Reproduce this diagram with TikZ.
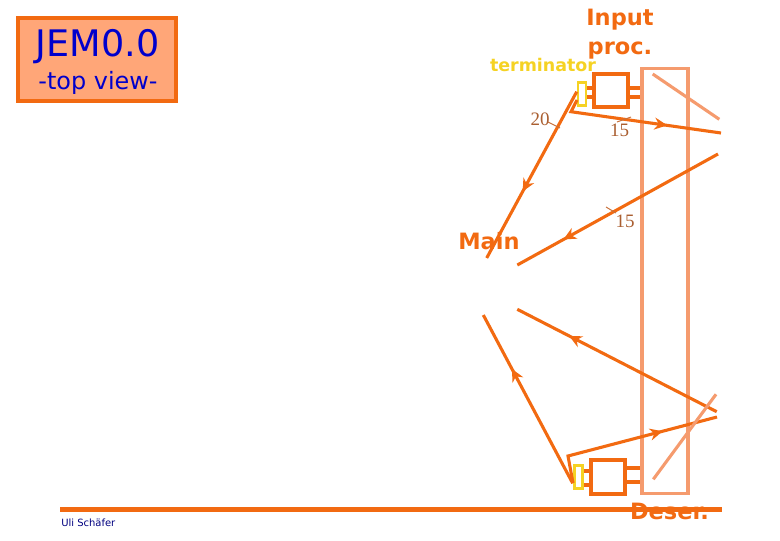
\documentclass[tikz,border=0pt]{standalone}
\usepackage{fontspec}
\setmainfont{DejaVu Sans}
\newfontfamily\numfont{Liberation Serif}
\usepackage{xcolor}
\usetikzlibrary{arrows.meta, calc, decorations.markings}
\definecolor{fiber}{RGB}{242,106,17}
\definecolor{salmon}{RGB}{245,155,110}
\definecolor{peach}{RGB}{255,166,120}
\definecolor{termyellow}{RGB}{245,210,35}
\definecolor{titleblue}{RGB}{0,0,204}
\definecolor{authorblue}{RGB}{0,0,128}
\definecolor{tickbrown}{RGB}{200,112,58}
\tikzset{
  fiberline/.style={draw=fiber, line width=2.2pt},
  arrowat/.style={postaction={decorate}, decoration={markings, mark=at position #1 with {\arrow{Stealth[length=9pt, width=8.5pt]}}}},
  stub/.style={draw=fiber, line width=2.4pt},
  procbox/.style={draw=fiber, line width=3pt, fill=white, minimum width=0.85cm, minimum height=0.84cm, inner sep=0pt},
  termbox/.style={draw=termyellow, line width=1.9pt, fill=white, minimum width=0.2cm, minimum height=0.58cm, inner sep=0pt},
  crateframe/.style={draw=salmon, line width=2.6pt, minimum width=1.16cm, minimum height=10.62cm, inner sep=0pt},
  tiltline/.style={draw=salmon, line width=2.2pt},
  tickline/.style={draw=tickbrown, line width=0.7pt},
  countlabel/.style={font=\numfont\fontsize{13.5}{15}\selectfont, text=tickbrown!85!black, inner sep=0pt},
  boldlabel/.style={font=\fontsize{16}{20.5}\selectfont\bfseries, text=fiber, inner sep=0pt, align=center}
}
\begin{document}
\begin{tikzpicture}[x=0.025cm, y=-0.025cm]
  \useasboundingbox (0,0) rectangle (780,540);

  % Title box
  \node[draw=fiber, line width=2.6pt, fill=peach, minimum width=3.95cm, minimum height=2.08cm] (title) at (97,59.5) {};
  \node[font=\fontsize{26}{30}\selectfont, text=titleblue, inner sep=0pt] (jemname) at (97.5,47) {JEM0.0};
  \node[font=\fontsize{17}{20}\selectfont, text=titleblue, inner sep=0pt] (topview) at (98,82.5) {-top view-};

  % Crate outline
  \node[crateframe] (crate) at (665,281) {};

  % Labels
  \node[boldlabel] (inputlabel) at (620,34.5) {Input\\proc.};
  \node[boldlabel] (mainlabel) at (489,241) {Main};
  \node[boldlabel] (deserlabel) at (669.5,511) {Deser.};
  \node[font=\fontsize{12.4}{15}\selectfont\bfseries, text=termyellow, inner sep=0pt] (termlabel) at (543,65) {terminator};

  % Upper input processor
  \node[procbox] (upperbox) at (611,90.5) {};
  \node[termbox] (upperterm) at (582,94) {};
  \foreach \y in {88,97} {
    \coordinate (upperstub) at (611,\y);
    \draw[stub] (upperterm.east |- upperstub) -- (upperbox.west |- upperstub);
    \draw[stub] (upperbox.east |- upperstub) -- (crate.west |- upperstub);
  }

  % Lower input processor
  \node[procbox] (lowerbox) at (608,477) {};
  \node[termbox] (lowerterm) at (578.5,477) {};
  \draw[stub] (lowerterm.east |- 0,471) -- (lowerbox.west |- 0,471);
  \draw[stub] (lowerterm.east |- 0,485) -- (lowerbox.west |- 0,485);
  \draw[stub] (lowerbox.east |- 0,468) -- (crate.west |- 0,468);
  \draw[stub] (lowerbox.east |- 0,482) -- (crate.west |- 0,482);

  % Free ends of the cables
  \coordinate (upperA) at (576.7,91.7);
  \coordinate (mainA) at (486.7,258);
  \coordinate (upperB) at (577,100);
  \coordinate (upperC) at (571,111.7);
  \coordinate (edgeB) at (721,133);
  \coordinate (edgeC) at (718,154);
  \coordinate (mainC) at (517.3,265);
  \coordinate (edgeD) at (716.7,411.7);
  \coordinate (mainD) at (517.3,309.3);
  \coordinate (lowerE) at (572.7,483.3);
  \coordinate (mainE) at (483.3,315);
  \coordinate (lowerF) at (573,483);
  \coordinate (lowerG) at (568,456);
  \coordinate (edgeF) at (717,417);

  % Cables
  \draw[fiberline, arrowat=0.6] (upperA) -- (mainA);
  \draw[fiberline, arrowat=0.67] (upperB) -- (upperC) -- (edgeB);
  \draw[fiberline, arrowat=0.77] (edgeC) -- (mainC);
  \draw[fiberline, arrowat=0.74] (edgeD) -- (mainD);
  \draw[fiberline, arrowat=0.68] (lowerE) -- (mainE);
  \draw[fiberline, arrowat=0.69] (lowerF) -- (lowerG) -- (edgeF);

  % Tilted lines
  \coordinate (tiltA) at (652.7,74);
  \coordinate (tiltB) at (719.3,119.3);
  \coordinate (tiltC) at (653.3,479.3);
  \coordinate (tiltD) at (716,394.3);
  \draw[tiltline] (tiltA) -- (tiltB);
  \draw[tiltline] (tiltC) -- (tiltD);

  % Cable counts
  \coordinate (tickA) at (548,122);
  \coordinate (tickB) at (560,128);
  \coordinate (tickC) at (617,122);
  \coordinate (tickD) at (631,117);
  \coordinate (tickE) at (606,207);
  \coordinate (tickF) at (616,213);
  \draw[tickline] (tickA) -- (tickB);
  \draw[tickline] (tickC) -- (tickD);
  \draw[tickline] (tickE) -- (tickF);
  \node[countlabel] (counttwenty) at (540,119.5) {20};
  \node[countlabel] (countupper) at (619.5,130) {15};
  \node[countlabel] (countlower) at (625,221) {15};

  % Footer
  \coordinate (footleft) at (60,509.5);
  \coordinate (footright) at (722,509.5);
  \draw[draw=fiber, line width=4pt] (footleft) -- (footright);
  \node[font=\fontsize{7.1}{8}\selectfont, text=authorblue, inner sep=0pt, anchor=west] (author) at (61,522.5) {Uli Schäfer};
\end{tikzpicture}
\end{document}
